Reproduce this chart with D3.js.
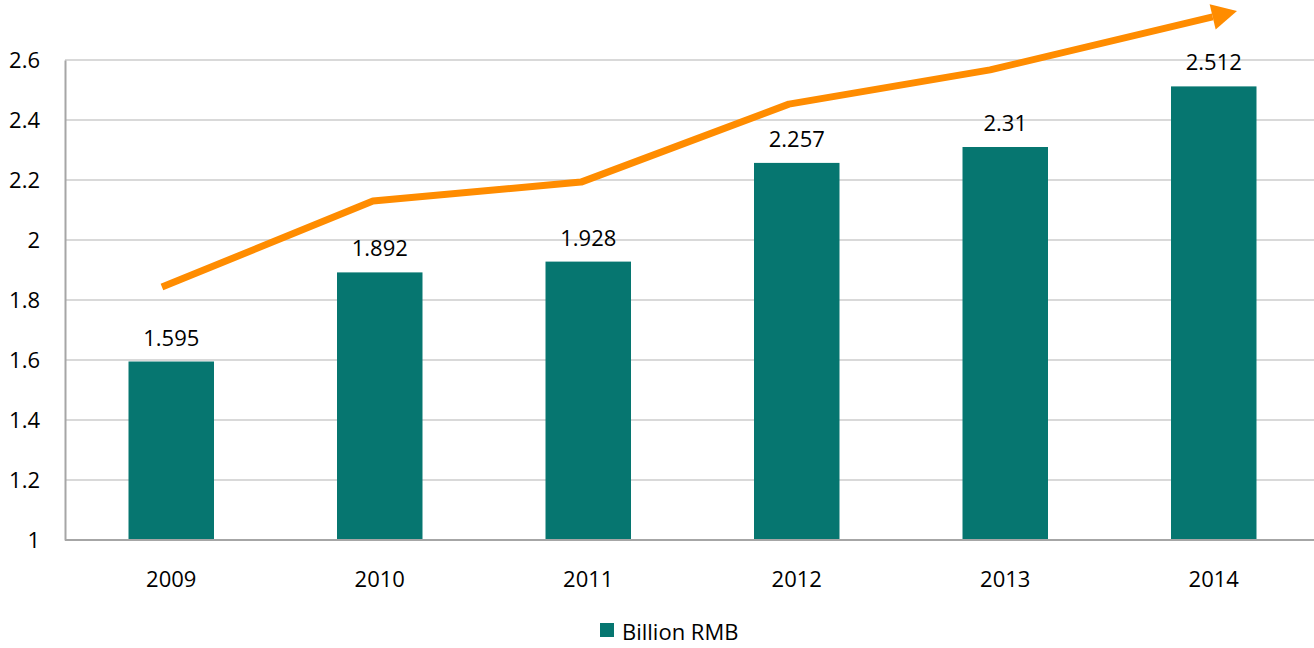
<!DOCTYPE html>
<html><head><meta charset="utf-8">
<script src="https://cdn.jsdelivr.net/npm/d3@7"></script>
<style>
html,body{margin:0;padding:0;background:#fff;}
svg{display:block;font-family:"Open Sans",sans-serif;}
</style></head>
<body><svg id="c" width="1314" height="648"></svg>
<script>
const years = ["2009","2010","2011","2012","2013","2014"];
const values = [1.595, 1.892, 1.928, 2.257, 2.31, 2.512];
const valueLabels = ["1.595","1.892","1.928","2.257","2.31","2.512"];
const yTicks = [1, 1.2, 1.4, 1.6, 1.8, 2, 2.2, 2.4, 2.6];
const seriesName = "Billion RMB";
// decorative trend arrow: category position (fractional index) and value
const arrowPos = [-0.035, 0.977, 1.975, 2.972, 3.937, 5.121];
const arrowVal = [1.843, 2.13, 2.193, 2.453, 2.567, 2.763];

const svg = d3.select("#c");
const mLeft = 65, mRight = 1316, mTop = 60, mBottom = 540;
const FS = 22;
const x = d3.scaleBand().domain(years).range([mLeft + 2, mRight + 2]).paddingInner(0.59).paddingOuter(0.295);
const y = d3.scaleLinear().domain([1, 2.6]).range([mBottom, mTop]);
const xi = d3.scaleLinear().domain([-0.5, years.length - 0.5]).range([mLeft, mRight]);

// gridlines
svg.append("g").selectAll("line").data(yTicks.filter(t => t > 1)).join("line")
  .attr("x1", mLeft).attr("x2", 1314).attr("y1", d => y(d)).attr("y2", d => y(d))
  .attr("stroke", "#d9d9d9").attr("stroke-width", 2);

// y axis
const ya = svg.append("g").attr("transform", `translate(${mLeft},0)`)
  .call(d3.axisLeft(y).tickValues(yTicks).tickFormat(d3.format("~g")).tickSize(0).tickPadding(25));
ya.select(".domain").attr("stroke", "#a6a6a6").attr("stroke-width", 2);
ya.selectAll("text").attr("font-size", FS).attr("fill", "#000").attr("font-family", "Open Sans");

// bars
svg.append("g").selectAll("rect").data(values).join("rect")
  .attr("x", (d, i) => x(years[i])).attr("width", x.bandwidth())
  .attr("y", d => y(d)).attr("height", d => y(1) - y(d))
  .attr("fill", "#067670");

// x axis
const xa = svg.append("g").attr("transform", `translate(0,${mBottom})`)
  .call(d3.axisBottom(x).tickSize(0).tickPadding(31));
xa.select(".domain").attr("stroke", "#a6a6a6").attr("stroke-width", 2).attr("d", `M${mLeft},0H1314`);
xa.selectAll("text").attr("font-size", FS).attr("fill", "#000").attr("font-family", "Open Sans");

// value labels
svg.append("g").selectAll("text").data(values).join("text")
  .attr("x", (d, i) => x(years[i]) + x.bandwidth() / 2).attr("y", d => y(d) - 16)
  .attr("text-anchor", "middle").attr("font-size", FS).attr("fill", "#000")
  .text((d, i) => valueLabels[i]);

// trend arrow
const pts = arrowPos.map((p, i) => [xi(p), y(arrowVal[i])]);
const n = pts.length;
const tip = pts[n - 1], prev = pts[n - 2];
const ang = Math.atan2(tip[1] - prev[1], tip[0] - prev[0]);
const headLen = 25, headW = 13;
const base = [tip[0] - headLen * Math.cos(ang), tip[1] - headLen * Math.sin(ang)];
const linePts = pts.slice(0, n - 1).concat([base]);
svg.append("path").attr("d", d3.line()(linePts))
  .attr("fill", "none").attr("stroke", "#ff8c00").attr("stroke-width", 7).attr("stroke-linejoin", "round");
const nx = -Math.sin(ang), ny = Math.cos(ang);
svg.append("path")
  .attr("d", `M${tip[0]},${tip[1]}L${base[0] + nx * headW},${base[1] + ny * headW}L${base[0] - nx * headW},${base[1] - ny * headW}Z`)
  .attr("fill", "#ff8c00");

// legend
const lg = svg.append("g").attr("transform", "translate(600,623)");
lg.append("rect").attr("width", 14).attr("height", 14).attr("fill", "#067670");
lg.append("text").attr("x", 22).attr("y", 17).attr("font-size", FS).attr("fill", "#000").text(seriesName);
</script></body></html>
